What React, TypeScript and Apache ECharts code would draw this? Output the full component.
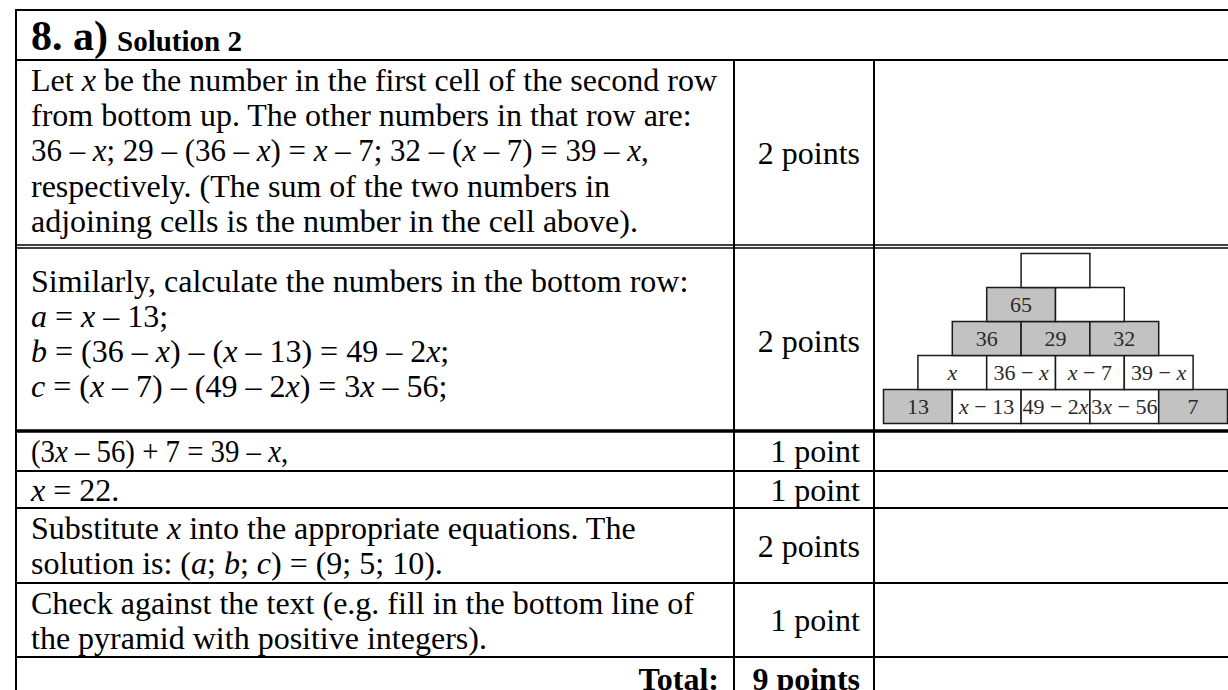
import { useEffect, useRef } from "react";
import * as echarts from "echarts";

// ---------- content ----------
const headerNumber = "8. a)";
const headerTitle = "Solution 2";

const stepTexts: string[][] = [
  [
    "Let {i|x} be the number in the first cell of the second row",
    "from bottom up. The other numbers in that row are:",
    "36 – {i|x}; 29 – (36 – {i|x}) = {i|x} – 7; 32 – ({i|x} – 7) = 39 – {i|x},",
    "respectively. (The sum of the two numbers in",
    "adjoining cells is the number in the cell above).",
  ],
  [
    "Similarly, calculate the numbers in the bottom row:",
    "{i|a} = {i|x} – 13;",
    "{i|b} = (36 – {i|x}) – ({i|x} – 13) = 49 – 2{i|x};",
    "{i|c} = ({i|x} – 7) – (49 – 2{i|x}) = 3{i|x} – 56;",
  ],
  ["(3{i|x} – 56) + 7 = 39 – {i|x},"],
  ["{i|x} = 22."],
  [
    "Substitute {i|x} into the appropriate equations. The",
    "solution is: ({i|a}; {i|b}; {i|c}) = (9; 5; 10).",
  ],
  [
    "Check against the text (e.g. fill in the bottom line of",
    "the pyramid with positive integers).",
  ],
];
const stepPoints = ["2 points", "2 points", "1 point", "1 point", "2 points", "1 point"];
const totalLabel = "Total:";
const totalPoints = "9 points";

// pyramid rows, bottom row first
const pyramidLabels: string[][] = [
  ["13", "{i|x} − 13", "49 − 2{i|x}", "3{i|x} − 56", "7"],
  ["{i|x}", "36 − {i|x}", "{i|x} − 7", "39 − {i|x}"],
  ["36", "29", "32"],
  ["65", ""],
  [""],
];
const pyramidShaded: number[][] = [
  [1, 0, 0, 0, 1],
  [0, 0, 0, 0],
  [1, 1, 1],
  [1, 0],
  [0],
];

// ---------- layout ----------
const FONT = "'Liberation Serif', 'Times New Roman', Times, serif";
const FS = 32;
const TEXT_X = 31;
const POINTS_X = 860;
const TOTAL_X = 719;
const LINE_CENTERS = [
  [80, 115.3, 150.6, 186, 221.3],
  [280.5, 315.5, 350.5, 385.5],
  [451],
  [489.5],
  [528, 563],
  [602.5, 637.5],
];
// horizontal tightening of a few formula lines (row, line) -> scaleX
const LINE_SCALE: Record<string, number> = { "0-2": 0.966, "2-0": 0.9 };
const POINT_CENTERS = [152.5, 340.5, 451, 489.5, 545.5, 620];
const TOTAL_CENTER = 679;

const richItalic = (size: number, color: string) => ({
  i: { fontFamily: FONT, fontSize: size, fontStyle: "italic", fill: color },
});

function textEl(x: number, y: number, text: string, opts: any = {}) {
  const size = opts.size ?? FS;
  const color = opts.color ?? "#000";
  const align = opts.align ?? "left";
  return {
    type: "text",
    x,
    y,
    scaleX: opts.scaleX ?? 1,
    silent: true,
    style: {
      text,
      fontFamily: FONT,
      fontSize: size,
      fontWeight: opts.weight ?? "normal",
      fill: color,
      align,
      textAlign: align,
      verticalAlign: "middle",
      textVerticalAlign: "middle",
      rich: richItalic(size, color),
    },
  };
}

function lineEl(x1: number, y1: number, x2: number, y2: number, w = 2) {
  return {
    type: "line",
    silent: true,
    shape: { x1, y1, x2, y2 },
    style: { stroke: "#000", lineWidth: w },
  };
}

export default function App() {
  const ref = useRef<HTMLDivElement>(null);
  useEffect(() => {
    if (!ref.current) return;
    const chart = echarts.init(ref.current, undefined, { renderer: "svg" });

    const elements: any[] = [];
    // table rules
    elements.push(lineEl(15, 10, 1228, 10));
    elements.push(lineEl(16, 9, 16, 690));
    elements.push(lineEl(15, 60, 1228, 60));
    elements.push(lineEl(734, 60, 734, 690));
    elements.push(lineEl(874, 60, 874, 690));
    elements.push(lineEl(15, 245, 1228, 245, 1.5));
    elements.push(lineEl(15, 248, 1228, 248, 1.5));
    elements.push(lineEl(15, 431, 1228, 431, 3.5));
    [471, 508, 583, 657].forEach((y) => elements.push(lineEl(15, y, 1228, y)));

    // header
    elements.push(textEl(TEXT_X, 35.8, headerNumber, { size: 42, weight: "bold" }));
    elements.push(textEl(117, 40.5, headerTitle, { size: 29, weight: "bold" }));

    // steps
    stepTexts.forEach((lines, r) => {
      lines.forEach((ln, k) => {
        elements.push(
          textEl(TEXT_X, LINE_CENTERS[r][k], ln, { scaleX: LINE_SCALE[`${r}-${k}`] ?? 1 })
        );
      });
      elements.push(textEl(POINTS_X, POINT_CENTERS[r], stepPoints[r], { align: "right" }));
    });
    elements.push(textEl(TOTAL_X, TOTAL_CENTER, totalLabel, { align: "right", weight: "bold" }));
    elements.push(textEl(POINTS_X, TOTAL_CENTER, totalPoints, { align: "right", weight: "bold" }));

    // pyramid data
    const bricks: any[] = [];
    const brickLabels: string[] = [];
    pyramidLabels.forEach((row, r) => {
      row.forEach((lab, c) => {
        bricks.push([r * 0.5 + c, r, pyramidShaded[r][c]]);
        brickLabels.push(lab);
      });
    });

    chart.setOption({
      animation: false,
      grid: { left: 883.5, top: 253.5, width: 344, height: 170 },
      xAxis: { type: "value", min: 0, max: 5, show: false },
      yAxis: { type: "value", min: 0, max: 5, show: false },
      graphic: { elements },
      series: [
        {
          type: "custom",
          coordinateSystem: "cartesian2d",
          silent: true,
          data: bricks,
          renderItem: (params: any, api: any) => {
            const x0 = api.value(0);
            const r = api.value(1);
            const shaded = api.value(2);
            const p1 = api.coord([x0, r + 1]);
            const p2 = api.coord([x0 + 1, r]);
            const w = p2[0] - p1[0];
            const h = p2[1] - p1[1];
            return {
              type: "group",
              children: [
                {
                  type: "rect",
                  shape: { x: p1[0], y: p1[1], width: w, height: h },
                  style: {
                    fill: shaded ? "#c2c2c2" : "#ffffff",
                    stroke: "#1a1a1a",
                    lineWidth: 1.5,
                  },
                },
                {
                  type: "text",
                  x: p1[0] + w / 2,
                  y: p1[1] + h / 2,
                  style: {
                    text: brickLabels[params.dataIndex],
                    fontFamily: FONT,
                    fontSize: 22,
                    fill: "#2a2a2a",
                    align: "center",
                    textAlign: "center",
                    verticalAlign: "middle",
                    textVerticalAlign: "middle",
                    rich: richItalic(22, "#2a2a2a"),
                  },
                },
              ],
            };
          },
        },
      ],
    });
    return () => chart.dispose();
  }, []);
  return (
    <div
      ref={ref}
      style={{ position: "fixed", left: 0, top: 0, width: 1228, height: 690, background: "#fff" }}
    />
  );
}
